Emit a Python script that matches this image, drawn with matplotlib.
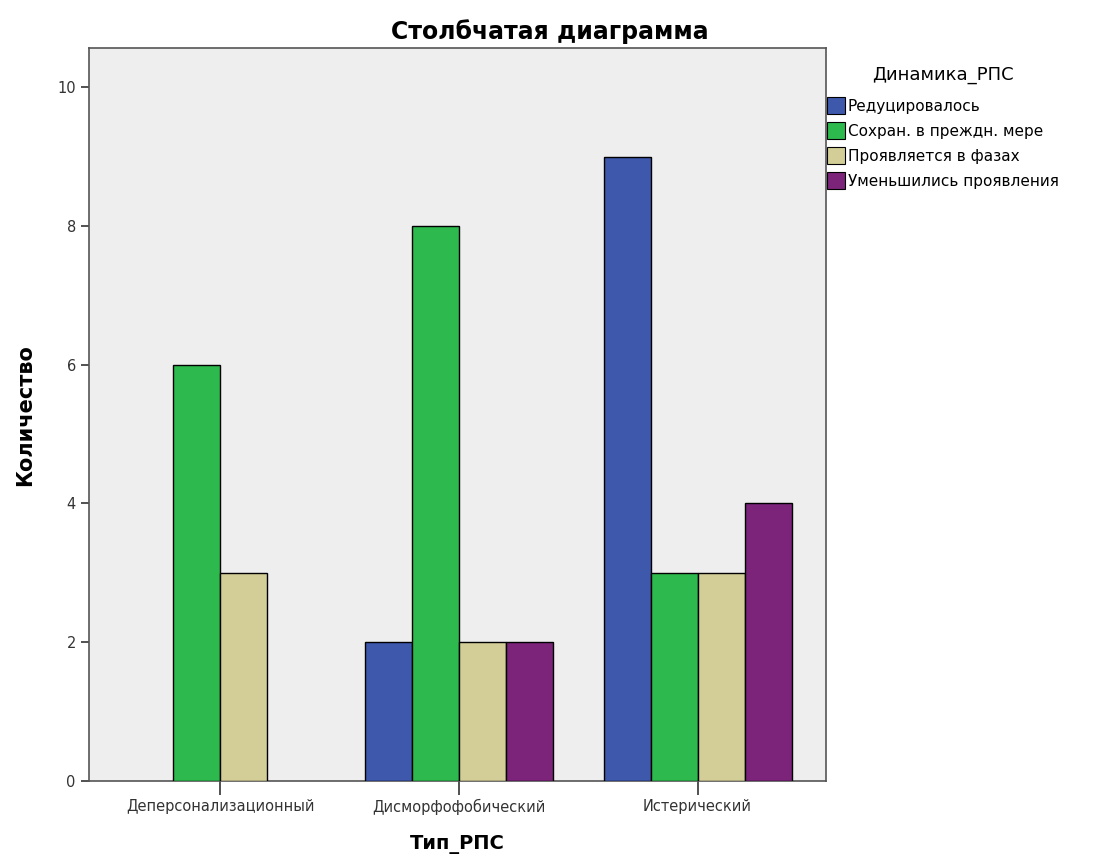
import numpy as np
import matplotlib.pyplot as plt
from matplotlib.patches import Patch

plt.rcParams['font.family'] = ['DejaVu Sans']

# Data
categories = ["Деперсонализационный", "Дисморфофобический", "Истерический"]
series_names = ["Редуцировалось", "Сохран. в преждн. мере",
                "Проявляется в фазах", "Уменьшились проявления"]
reduced = [0, 2, 9]
kept = [6, 8, 3]
phases = [3, 2, 3]
decreased = [0, 2, 4]
values = [reduced, kept, phases, decreased]
colors = ["#3E58AC", "#2DB94D", "#D3CE97", "#7B2479"]

fig = plt.figure(figsize=(10.99, 8.63), dpi=100)
ax = fig.add_axes([0.081, 0.095, 0.671, 0.849])
ax.set_facecolor("#EEEEEE")

x = np.arange(len(categories))
w = 0.197
for i, (vals, c) in enumerate(zip(values, colors)):
    offs = (i - 1.5) * w
    for xi, v in zip(x, vals):
        if v > 0:
            ax.bar(xi + offs, v, width=w, color=c, edgecolor="black", linewidth=1.0, zorder=3)

ax.set_xlim(-0.55, 2.54)
ax.set_ylim(0, 10.56)
ax.set_yticks([0, 2, 4, 6, 8, 10])
ax.set_xticks(x)
ax.set_xticklabels(categories, fontsize=10.5, color="#333333")
ax.tick_params(axis='y', labelsize=10.5, colors="#333333", length=6, width=1.2)
ax.tick_params(axis='x', length=10, width=1.2, pad=3, colors="#333333")
for s in ax.spines.values():
    s.set_color("#555555")
    s.set_linewidth(1.2)

fig.suptitle("Столбчатая диаграмма", fontsize=17, fontweight="bold", x=0.5, y=0.978)
ax.set_ylabel("Количество", fontsize=15, fontweight="bold", labelpad=16)
ax.set_xlabel("Тип_РПС", fontsize=14, fontweight="bold", labelpad=14)

handles = [Patch(facecolor=c, edgecolor="black", linewidth=0.8) for c in colors]
leg = fig.legend(handles, series_names, title="Динамика_РПС",
                 loc="upper left", bbox_to_anchor=(0.747, 0.931),
                 frameon=False, fontsize=11, title_fontsize=13,
                 handlelength=1.2, handleheight=1.3, handletextpad=0.15,
                 labelspacing=0.55, borderaxespad=0.0)
leg._legend_box.align = "center"
leg._legend_box.sep = 9.5

fig.savefig("out.png", dpi=100)
